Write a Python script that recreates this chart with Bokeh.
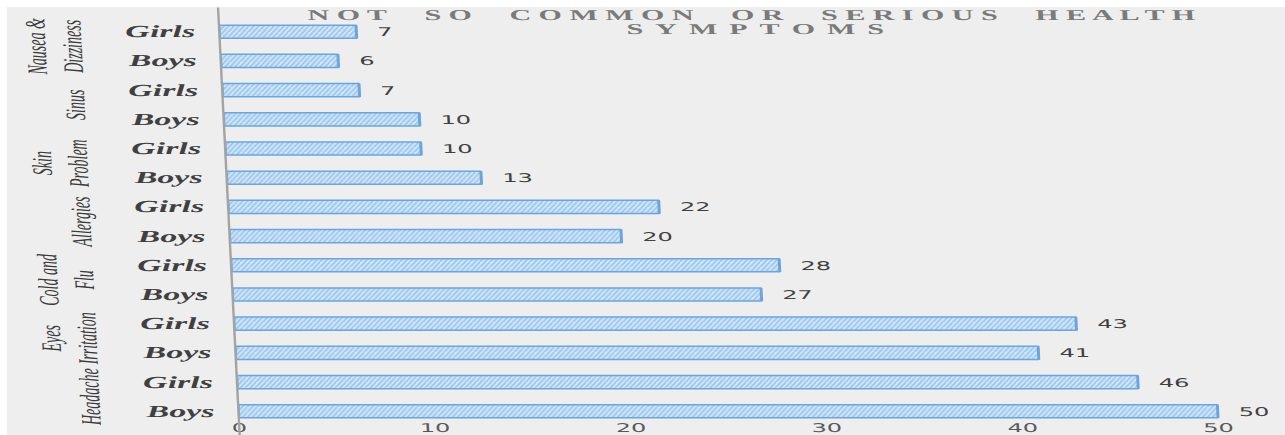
from bokeh.core.properties import value
from bokeh.embed import file_html
from bokeh.layouts import column, row
from bokeh.models import ColumnDataSource, FactorRange, FixedTicker, Label, Range1d, Spacer
from bokeh.plotting import figure
from bokeh.resources import INLINE

# Symptom groups, bottom to top, with counts per group
symptoms = ["Headache", "Eyes\nIrritation", "Cold and\nFlu", "Allergies",
            "Skin\nProblem", "Sinus", "Nausea &\nDizziness"]
genders = ["Boys", "Girls"]
boys = [50, 41, 27, 20, 13, 10, 6]
girls = [46, 43, 28, 22, 10, 7, 7]
x_ticks = [0, 10, 20, 30, 40, 50]
title_lines = ["NOT SO COMMON OR SERIOUS HEALTH", "SYMPTOMS"]

# leading pad widens the inner labels so the group names sit further out
PAD = "\u00a0"

factors, counts = [], []
for s, b, g in zip(symptoms, boys, girls):
    factors += [(s, PAD + genders[0]), (s, PAD + genders[1])]
    counts += [b, g]

source = ColumnDataSource(dict(cat=factors, count=counts,
                               label=[str(c) for c in counts]))

BG = "#eeeeee"

p = figure(width=640, height=428, sizing_mode="fixed", align="start",
           output_backend="svg", toolbar_location=None,
           y_range=FactorRange(*factors, range_padding=0.33,
                               range_padding_units="absolute",
                               group_padding=0, factor_padding=0),
           x_range=Range1d(0, 53),
           min_border_left=105, min_border_right=16, min_border_top=0,
           min_border_bottom=0,
           background_fill_alpha=0, border_fill_alpha=0,
           outline_line_color=None)

p.hbar(y="cat", right="count", height=0.45, source=source,
       fill_color="#d6e8f8", hatch_pattern="/", hatch_color="#9cc7ef",
       hatch_scale=5, hatch_weight=1.2,
       line_color="#6aa5e0", line_width=1.5)

p.text(x="count", y="cat", text="label", source=source,
       x_offset=10.5, text_align="left", text_baseline="middle",
       text_font=value("DejaVu Sans"), text_font_size="12px",
       text_color="#404040")

# letter-spaced two-line heading
def spaced(line, letter_gap, word_gap):
    return word_gap.join(letter_gap.join(word) for word in line.split(" "))

title_gaps = [(" ", "\u2003 "), ("\u2009\u2009", "\u2003")]
for txt, (lg, wg), yy in zip(title_lines, title_gaps, [14.09, 13.61]):
    p.add_layout(Label(x=27.38, y=yy, text=spaced(txt, lg, wg),
                       text_align="center", text_baseline="middle",
                       text_font="Liberation Serif", text_font_style="bold",
                       text_font_size="15px", text_color="#7a7a7a"))

p.xgrid.visible = False
p.ygrid.visible = False

xa = p.xaxis[0]
xa.ticker = FixedTicker(ticks=x_ticks)
xa.axis_line_color = None
xa.major_tick_line_color = None
xa.minor_tick_line_color = None
xa.major_tick_out = 0
xa.major_label_standoff = -12
xa.major_label_text_font = "DejaVu Sans"
xa.major_label_text_font_size = "12px"
xa.major_label_text_color = "#595959"

ya = p.yaxis[0]
ya.axis_line_color = "#a3a3a3"
ya.axis_line_width = 1.2
ya.major_tick_line_color = None
ya.major_tick_out = 0
ya.major_label_standoff = 12
ya.major_label_orientation = "horizontal"
ya.major_label_text_font = "Liberation Serif"
ya.major_label_text_font_style = "bold italic"
ya.major_label_text_font_size = "17px"
ya.major_label_text_color = "#404040"
ya.group_text_font = "Liberation Serif"
ya.group_text_font_style = "italic"
ya.group_text_font_size = "14px"
ya.group_text_color = "#3a3a3a"
ya.separator_line_alpha = 0

# wide, slightly sheared rendering of the drawing surface
p.stylesheets = [".bk-Canvas { transform: matrix(2, 0, 0.0506, 1, 0, 0); "
                 "transform-origin: 0 0; }"]

panel = column(p, width=1278, height=428, sizing_mode="fixed",
               styles={"background-color": BG, "overflow": "hidden"})
page = column(Spacer(height=7), row(Spacer(width=7), panel))

open("out.html", "w").write(file_html(page, INLINE))
